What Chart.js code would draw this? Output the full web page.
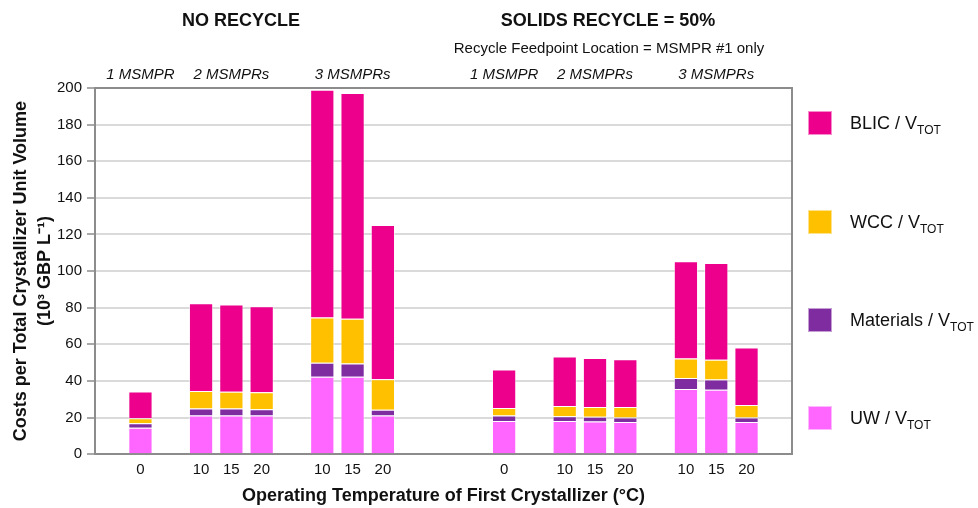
<!DOCTYPE html>
<html><head><meta charset="utf-8">
<script src="https://cdn.jsdelivr.net/npm/chart.js@4.4.1/dist/chart.umd.min.js"></script>
<style>
body{margin:0;background:#fff;font-family:"Liberation Sans",Arial,sans-serif;}
#wrap{position:relative;width:978px;height:508px;overflow:hidden;}
canvas{position:absolute;left:0;top:0;}
.t{position:absolute;white-space:nowrap;transform:translate(-50%,-50%);color:#111;}
.h{font-weight:bold;font-size:18px;}
.s{font-size:15px;}
.g{font-style:italic;font-size:15px;}
.leg{position:absolute;left:808px;display:flex;align-items:center;font-size:18px;color:#111;transform:translateY(-50%);white-space:nowrap;}
.leg .b{width:24px;height:24px;margin-right:18px;box-sizing:border-box;border:1px solid rgba(255,255,255,.55);}
.leg sub{font-size:12px;vertical-align:-5px;line-height:0;}
</style></head><body>
<div id="wrap">
<canvas id="c" width="978" height="508"></canvas>
<div class="t h" style="left:241px;top:20px">NO RECYCLE</div>
<div class="t h" style="left:608px;top:20px">SOLIDS RECYCLE = 50%</div>
<div class="t s" style="left:609px;top:47px">Recycle Feedpoint Location = MSMPR #1 only</div>
<div id="groups"></div>
<div id="legend"></div>
</div>
<script>
const categories = ['', '0', '', '10','15','20','', '10','15','20','','','','0','','10','15','20','','10','15','20',''];
const uwValues        = [null,14.5,null,21.1,21.1,21.1,null,42.3,42.3,21.1,null,null,null,18.2,null,18.2,17.8,17.6,null,35.6,35.2,17.6,null];
const materialsValues = [null, 2.4,null, 3.8, 3.8, 3.4,null, 7.6, 7.2, 3.2,null,null,null, 2.9,null, 2.5, 2.7, 2.5,null, 6.0, 5.6, 2.5,null];
const wccValues       = [null, 2.7,null, 9.6, 9.2, 9.4,null,24.7,24.5,16.7,null,null,null, 4.2,null, 5.6, 5.3, 5.7,null,10.7,10.8, 6.8,null];
const blicValues      = [null,14.7,null,47.9,47.6,46.9,null,124.5,123.3,84.2,null,null,null,21.0,null,27.1,26.8,26.1,null,53.1,52.8,31.4,null];
const seriesNames = ['UW', 'Materials', 'WCC', 'BLIC'];
const seriesColors = ['#FF66FF', '#7E2CA0', '#FFC000', '#EC008C'];
const groupLabels = ['1 MSMPR', '2 MSMPRs', '3 MSMPRs', '1 MSMPR', '2 MSMPRs', '3 MSMPRs'];
const groupCenterIndex = [1, 4, 8, 13, 16, 20];
const yTicks = [0, 20, 40, 60, 80, 100, 120, 140, 160, 180, 200];

const seriesValues = [uwValues, materialsValues, wccValues, blicValues];

const frame = {
  id: 'frame',
  beforeDatasetsDraw(chart) {
    const a = chart.chartArea, ctx = chart.ctx;
    ctx.save();
    ctx.strokeStyle = '#8C8C8C';
    ctx.lineWidth = 2;
    ctx.beginPath();
    ctx.moveTo(a.left, a.top);
    ctx.lineTo(a.right, a.top);
    ctx.lineTo(a.right, a.bottom);
    ctx.stroke();
    ctx.restore();
  }
};

const chart = new Chart(document.getElementById('c'), {
  type: 'bar',
  data: {
    labels: categories,
    datasets: seriesNames.map((n, i) => ({
      label: n,
      data: seriesValues[i],
      backgroundColor: seriesColors[i],
      borderColor: 'rgba(255,255,255,0.55)',
      borderWidth: 1,
      categoryPercentage: 1,
      barPercentage: 0.8
    }))
  },
  options: {
    responsive: false,
    animation: false,
    devicePixelRatio: 1,
    layout: { padding: { left: 9, right: 186, top: 88, bottom: 2 } },
    plugins: { legend: { display: false }, tooltip: { enabled: false } },
    scales: {
      x: {
        stacked: true,
        grid: { display: false, drawTicks: false },
        border: { display: true, color: '#8C8C8C', width: 2 },
        ticks: { autoSkip: false, maxRotation: 0, padding: 7, color: '#111', font: { family: 'Liberation Sans', size: 15 } },
        title: { display: true, text: 'Operating Temperature of First Crystallizer (°C)', color: '#111',
                 font: { family: 'Liberation Sans', size: 18, weight: 'bold', lineHeight: 1.1 }, padding: { top: 0, bottom: 0 } }
      },
      y: {
        stacked: true,
        min: 0, max: 200,
        afterBuildTicks(s) { s.ticks = yTicks.map(v => ({ value: v })); },
        afterFit(s) { s.width = 86; },
        grid: { color: '#DADADA', lineWidth: 2, tickLength: 8, tickColor: '#8C8C8C', tickWidth: 1.5 },
        border: { display: true, color: '#8C8C8C', width: 2 },
        ticks: { padding: 5, color: '#111', font: { family: 'Liberation Sans', size: 15 } },
        title: { display: true, text: ['Costs per Total Crystallizer Unit Volume', '(10³ GBP L⁻¹)'], color: '#111',
                 font: { family: 'Liberation Sans', size: 18, weight: 'bold', lineHeight: 1.35 }, padding: { top: 0, bottom: 0 } }
      }
    }
  },
  plugins: [frame]
});

// group labels positioned from the x scale
const xs = chart.scales.x;
const gdiv = document.getElementById('groups');
groupLabels.forEach((txt, i) => {
  const d = document.createElement('div');
  d.className = 't g';
  d.textContent = txt;
  d.style.left = xs.getPixelForValue(groupCenterIndex[i]) + 'px';
  d.style.top = '73px';
  gdiv.appendChild(d);
});

// legend (top to bottom: BLIC, WCC, Materials, UW)
const ldiv = document.getElementById('legend');
const legTops = [123, 222, 320, 418];
seriesNames.slice().reverse().forEach((n, k) => {
  const i = seriesNames.length - 1 - k;
  const d = document.createElement('div');
  d.className = 'leg';
  d.style.top = legTops[k] + 'px';
  const b = document.createElement('span');
  b.className = 'b';
  b.style.background = seriesColors[i];
  const s = document.createElement('span');
  s.innerHTML = n + ' / V<sub>TOT</sub>';
  d.appendChild(b); d.appendChild(s);
  ldiv.appendChild(d);
});
</script>
</body></html>
